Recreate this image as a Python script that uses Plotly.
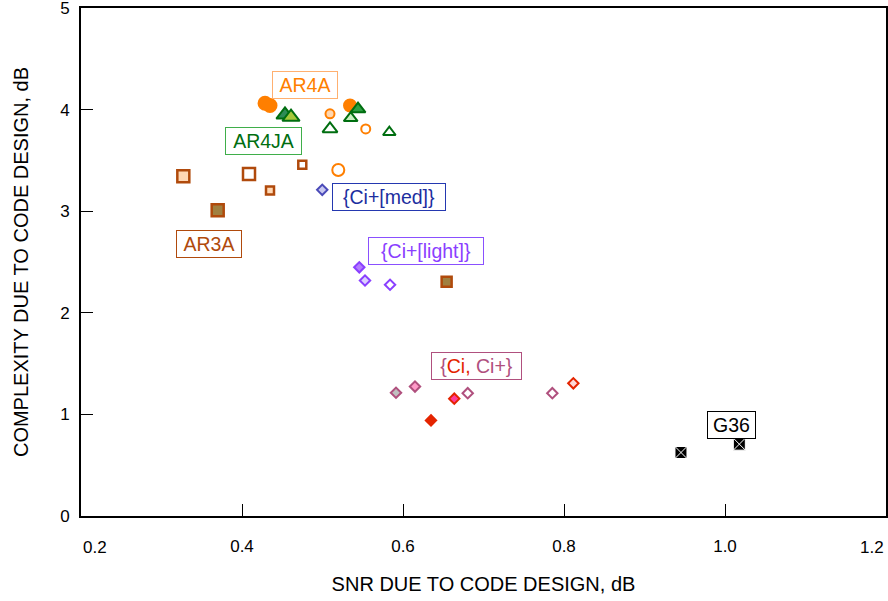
import plotly.graph_objects as go

# ---- data ----
ar4a_x = [0.4286, 0.4348, 0.5342, 0.5093, 0.5537, 0.5196]
ar4a_y = [4.063, 4.040, 4.040, 3.959, 3.810, 3.405]

ar4ja_x = [0.4534, 0.4609, 0.5441, 0.5350, 0.5093, 0.5830]
ar4ja_y = [3.949, 3.927, 4.005, 3.917, 3.810, 3.777]

ar3a_x = [0.3271, 0.4087, 0.4749, 0.4348, 0.3698, 0.6542]
ar3a_y = [3.343, 3.366, 3.456, 3.203, 3.009, 2.305]

med_x = [0.4997]
med_y = [3.210]

light_x = [0.5457, 0.5528, 0.5839]
light_y = [2.448, 2.318, 2.276]

ci_x = [0.5913, 0.6149, 0.6348, 0.6637, 0.6804, 0.7855, 0.8116]
ci_y = [1.213, 1.274, 0.941, 1.155, 1.209, 1.209, 1.306]

g36_x = [0.9453, 1.0178]
g36_y = [0.625, 0.707]

x_ticks = [0.2, 0.4, 0.6, 0.8, 1.0, 1.2]
x_tick_labels = ["0.2", "0.4", "0.6", "0.8", "1.0", "1.2"]
y_ticks = [0, 1, 2, 3, 4, 5]
y_tick_labels = ["0", "1", "2", "3", "4", "5"]

labels = ["AR4A", "AR4JA", "{Ci+[med]}", "{Ci+[light]}", "AR3A", "{Ci, Ci+}", "G36"]
label_x = [0.4786, 0.4273, 0.5822, 0.6288, 0.3596, 0.6913, 1.0075]
label_y = [4.246, 3.692, 3.142, 2.604, 2.673, 1.472, 0.895]

# ---- styles ----
FONT = "Liberation Sans, Arial, Helvetica, sans-serif"
ORANGE = "#ff7f00"
GREEN = "#006e10"
BROWN = "#b04a0c"
BLUE = "#4a4ab8"
PURPLE = "#8a40ff"
MAUVE = "#b0507e"
RED = "#e42400"

fig = go.Figure()

fig.add_trace(go.Scatter(
    x=ar4a_x, y=ar4a_y, mode="markers", name="AR4A",
    marker=dict(symbol="circle", size=[13, 13, 12, 9, 9, 12], opacity=1,
                color=[ORANGE, ORANGE, ORANGE, "#ffd7b0", "white", "white"],
                line=dict(color=ORANGE, width=2))))

fig.add_trace(go.Scatter(
    x=ar4ja_x, y=ar4ja_y, mode="markers", name="AR4JA",
    marker=dict(symbol="triangle-up", size=[15, 15, 13, 12, 13, 11], opacity=1,
                color=["#2e8b57", "#a6c83a", "#2ea043", "#c9f0c0", "white", "white"],
                line=dict(color=GREEN, width=2))))

fig.add_trace(go.Scatter(
    x=ar3a_x, y=ar3a_y, mode="markers", name="AR3A",
    marker=dict(symbol="square", size=[12, 12, 8, 8, 12, 10], opacity=1,
                color=["#ffd8b4", "white", "white", "#ffd8b4", "#a08040", "#a08040"],
                line=dict(color=BROWN, width=2.5))))

fig.add_trace(go.Scatter(
    x=med_x, y=med_y, mode="markers", name="med",
    marker=dict(symbol="diamond", size=8, color="#c8c8f0", opacity=1,
                line=dict(color=BLUE, width=2))))

fig.add_trace(go.Scatter(
    x=light_x, y=light_y, mode="markers", name="light",
    marker=dict(symbol="diamond", size=8, opacity=1,
                color=["#b47cff", "#dcd0ff", "white"],
                line=dict(color=PURPLE, width=2))))

fig.add_trace(go.Scatter(
    x=ci_x, y=ci_y, mode="markers", name="ci",
    marker=dict(symbol="diamond", size=8, opacity=1,
                color=["#c0c0c0", "#ff9ac8", RED, "#ff3c9a", "white", "white", "#ffd8d8"],
                line=dict(color=[MAUVE, MAUVE, RED, RED, MAUVE, MAUVE, RED], width=2))))

fig.add_trace(go.Scatter(
    x=g36_x, y=g36_y, mode="markers", name="G36",
    marker=dict(symbol="square-x", size=12, color="black", opacity=1,
                line=dict(color="white", width=1))))

label_text_colors = [ORANGE, GREEN, "#1c2ea0", PURPLE, BROWN, None, "black"]
label_border_colors = ["#ffb070", "#3fae4a", "#2438b0", "#8a50ff", BROWN, MAUVE, "black"]
label_widths = [60, 71, 108, 110, 60, 85, 43]

for i, t in enumerate(labels):
    if t == "{Ci, Ci+}":
        txt = ("<span style='color:%s'>{</span><span style='color:%s'>Ci,</span>"
               "<span style='color:%s'> Ci+}</span>") % (MAUVE, RED, MAUVE)
        col = MAUVE
    else:
        txt = t
        col = label_text_colors[i]
    fig.add_annotation(
        x=label_x[i], y=label_y[i], xref="x", yref="y", text=txt, showarrow=False,
        font=dict(family=FONT, size=19.5, color=col),
        bordercolor=label_border_colors[i], borderwidth=1, borderpad=2,
        bgcolor="white", width=label_widths[i], height=22, align="center")

# edge x tick labels are drawn inward-aligned, as in the reference
inner_idx = list(range(1, len(x_ticks) - 1))
fig.add_annotation(x=x_ticks[0], y=0, xref="x", yref="paper", text=x_tick_labels[0],
                   showarrow=False, xanchor="left", yanchor="top", yshift=-20,
                   font=dict(family=FONT, size=17, color="black"))
fig.add_annotation(x=x_ticks[-1], y=0, xref="x", yref="paper", text=x_tick_labels[-1],
                   showarrow=False, xanchor="right", yanchor="top", yshift=-20,
                   font=dict(family=FONT, size=17, color="black"))

fig.update_xaxes(
    range=[0.2, 1.2], tickvals=[x_ticks[i] for i in inner_idx],
    ticktext=[x_tick_labels[i] for i in inner_idx],
    ticks="inside", ticklen=12, tickwidth=1, tickcolor="black",
    showline=True, linewidth=2, linecolor="black", mirror=True,
    showgrid=False, zeroline=False, ticklabelstandoff=14,
    tickfont=dict(family=FONT, size=17, color="black"),
    title=dict(text="SNR DUE TO CODE DESIGN, dB", standoff=22,
               font=dict(family=FONT, size=20, color="black")))

fig.update_yaxes(
    range=[0, 5], tickvals=y_ticks, ticktext=y_tick_labels,
    ticks="inside", ticklen=12, tickwidth=1, tickcolor="black",
    showline=True, linewidth=2, linecolor="black", mirror=True,
    showgrid=False, zeroline=False, ticklabelstandoff=6,
    ticklabeloverflow="allow",
    tickfont=dict(family=FONT, size=17, color="black"),
    title=dict(text="COMPLEXITY DUE TO CODE DESIGN, dB", standoff=26,
               font=dict(family=FONT, size=20, color="black")))

fig.update_layout(
    width=888, height=601, showlegend=False,
    margin=dict(l=81, r=2, t=8, b=85, autoexpand=False),
    plot_bgcolor="white", paper_bgcolor="white",
    font=dict(family=FONT))

fig.write_html("out.html", config={"displayModeBar": False},
               post_script="document.body.style.margin='0';")
